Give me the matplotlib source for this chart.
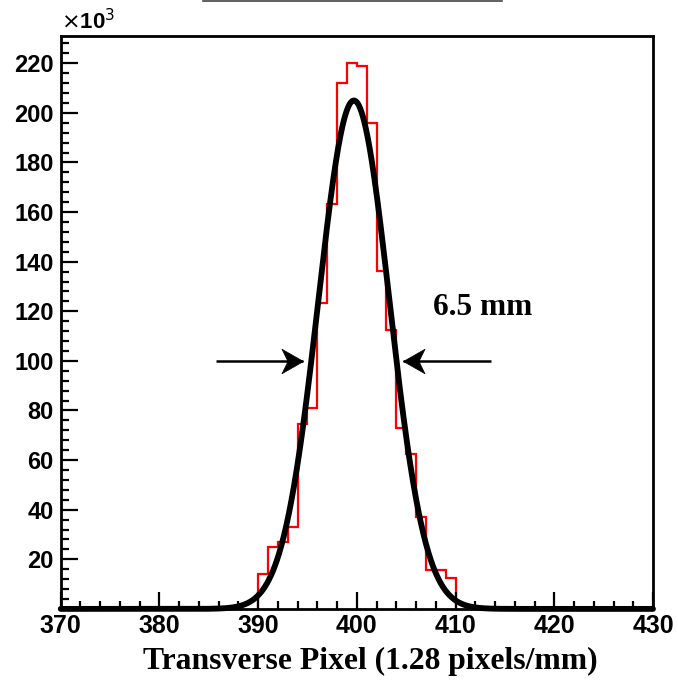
import numpy as np
import matplotlib
matplotlib.use("Agg")
import matplotlib.pyplot as plt
from matplotlib.path import Path
from matplotlib.ticker import MultipleLocator, FuncFormatter

# ---- data ----
bin_edges = [390, 391, 392, 393, 394, 395, 396, 397, 398, 399, 400,
             401, 402, 403, 404, 405, 406, 407, 408, 409, 410]
counts = [14.0e3, 25.1e3, 26.9e3, 33.1e3, 74.4e3, 81.1e3, 123.2e3, 163.1e3,
          211.9e3, 220.0e3, 219.0e3, 196.0e3, 136.4e3, 112.5e3, 72.8e3,
          62.5e3, 36.9e3, 15.7e3, 15.7e3, 12.3e3]
fit_amplitude = 205.0e3
fit_mean = 399.7
fit_sigma = 3.6
x_range = [370, 430]
y_range = [0, 231000]
width_label = "6.5 mm"
arrow_level = 100.0e3
left_arrow = [385.7, 394.5]
right_arrow = [413.6, 404.7]
label_pos = [412.7, 121.7e3]

W, H = 678, 681
fig = plt.figure(figsize=(W / 100, H / 100), dpi=100)
ax = fig.add_axes([60.7 / W, 1 - 608.9 / H, (653 - 60.7) / W, (608.9 - 36) / H])

# histogram (step outline)
ax.stairs(counts, bin_edges, color="red", linewidth=1.6, baseline=0)

# gaussian fit
xs = np.linspace(x_range[0], x_range[1], 1200)
ys = fit_amplitude * np.exp(-0.5 * ((xs - fit_mean) / fit_sigma) ** 2)
ax.plot(xs, ys, color="black", linewidth=4.2, solid_capstyle="round", zorder=5, clip_on=False)

ax.set_xlim(*x_range)
ax.set_ylim(*y_range)

# arrows with stealth-shaped heads
def stealth(direction):
    verts = [(0, 0), (-1, 0.57), (-0.72, 0), (-1, -0.57), (0, 0)]
    verts = [(direction * x, y) for x, y in verts]
    codes = [Path.MOVETO, Path.LINETO, Path.LINETO, Path.LINETO, Path.CLOSEPOLY]
    return Path(verts, codes)

for (x0, x1), d in ((left_arrow, 1), (right_arrow, -1)):
    ax.plot([x0, x1], [arrow_level, arrow_level], color="black", linewidth=1.8,
            solid_capstyle="butt")
    ax.plot([x1], [arrow_level], linestyle="none", marker=stealth(d), markersize=31,
            markerfacecolor="black", markeredgecolor="black", markeredgewidth=0.5)

ax.text(label_pos[0], label_pos[1], width_label, ha="center", va="center",
        fontsize=22.5, fontweight="bold", family="Liberation Serif")

# ticks
ax.xaxis.set_major_locator(MultipleLocator(10))
ax.xaxis.set_minor_locator(MultipleLocator(2))
ax.yaxis.set_major_locator(MultipleLocator(20000))
ax.yaxis.set_minor_locator(MultipleLocator(4000))
ax.yaxis.set_major_formatter(FuncFormatter(lambda v, p: "" if v <= 0 else f"{v/1000:.0f}"))
ax.tick_params(which="both", direction="in", top=False, right=False, width=1.6)
ax.tick_params(which="major", length=12)
ax.tick_params(which="minor", length=6)
ax.tick_params(axis="x", which="major", pad=4)
ax.tick_params(axis="y", which="major", pad=5)
for lab in ax.get_xticklabels():
    lab.set_fontfamily("Liberation Sans")
    lab.set_fontweight("bold")
    lab.set_fontsize(18)
for lab in ax.get_yticklabels():
    lab.set_fontfamily("Liberation Sans")
    lab.set_fontweight("bold")
    lab.set_fontsize(17)

for s in ax.spines.values():
    s.set_linewidth(2.0)
    s.set_color("black")

# multiplier
ax.text(0.0, 1.004, r"$\times$10$^{3}$", transform=ax.transAxes, ha="left", va="bottom",
        fontsize=16, fontweight="bold", family="Liberation Sans")

# x label
fig.text(370 / W, 1 - 661 / H, "Transverse Pixel (1.28 pixels/mm)", ha="center", va="center",
         fontsize=22.8, fontweight="bold", family="Liberation Serif")

# bottom edge of title box (cut off at top)
fig.add_artist(plt.Line2D([203 / W, 502 / W], [1 - 1.0 / H, 1 - 1.0 / H],
                          transform=fig.transFigure, color="#444444", linewidth=1.2))

fig.savefig("out.png", dpi=100)
